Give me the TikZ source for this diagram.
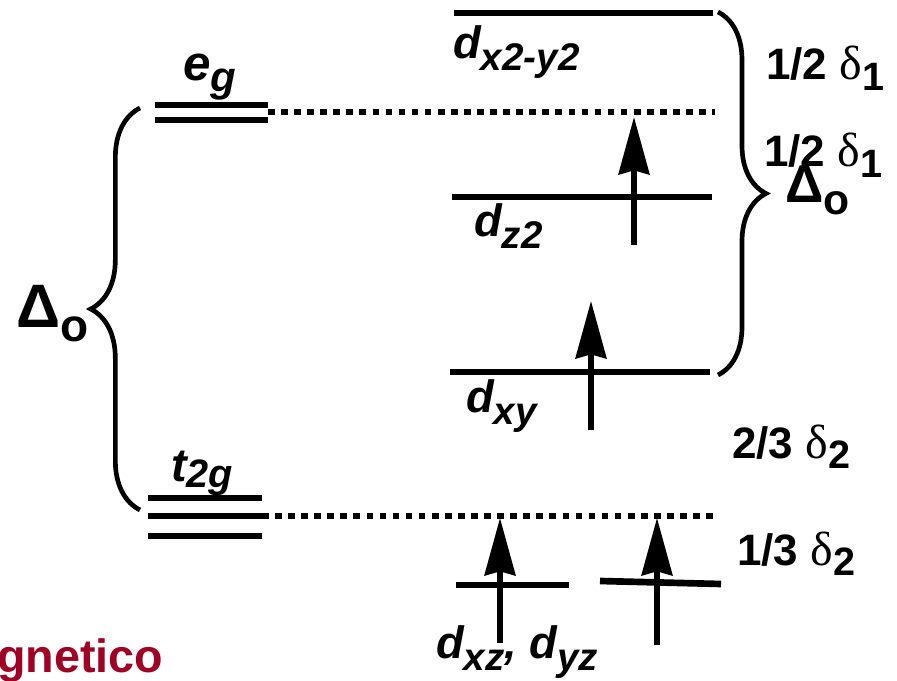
\documentclass[tikz,border=0pt]{standalone}
\usepackage{fontspec}
\setmainfont{Liberation Sans}
\newfontfamily\grkfont{Liberation Serif}
\usepackage{graphicx}
\usetikzlibrary{arrows.meta, decorations.pathreplacing}
\definecolor{wine}{HTML}{A10025}
\newcommand{\lsub}[2][9]{\raisebox{-#1pt}{\scalebox{0.85}{#2}}}
\newcommand{\dsub}[2][8]{\raisebox{-#1pt}{\scalebox{0.9}{#2}}}
\newcommand{\dlt}{{\grkfont\mdseries\fontsize{36}{38}\selectfont δ}}

\begin{document}
\begin{tikzpicture}[
    x=0.75pt, y=-0.75pt,
    level/.style={line width=5pt},
    guide/.style={line width=4pt, dash pattern=on 5pt off 4.8pt},
    spin/.style={line width=4pt, -{Stealth[length=43pt, width=23pt, inset=3pt]}},
    curly/.style={line width=3.5pt, decorate, decoration={brace, amplitude=#1}},
    orb/.style={anchor=base west, inner sep=0pt, font=\fontsize{34}{36}\selectfont\bfseries\itshape},
    gap/.style={anchor=base west, inner sep=0pt, font=\fontsize{33}{35}\selectfont\bfseries}
]
\useasboundingbox (0,0) rectangle (897,681);

% Octahedral levels
\draw[level] (155,105) -- (268,105);
\draw[level] (155,120) coordinate (eg-l) -- (268,120);
\coordinate (eg-r) at (268,112);
\draw[level] (148,498) -- (262,498);
\draw[level] (148,516) coordinate (tg-l) -- (262,516) coordinate (tg-r);
\draw[level] (148,536) -- (262,536);

% Split levels
\draw[level] (454,13) -- (713,13);
\draw[level] (452,197) -- (712,197);
\draw[level] (450,372) -- (710,372);
\draw[level] (456,585) -- (569,585);
\draw[level] (600,581) -- (721,584);

% Barycentres
\coordinate (eg-far) at (715,112);
\coordinate (tg-far) at (715,516);
\draw[guide] (eg-r) -- (eg-far);
\draw[guide] (tg-r) -- (tg-far);

% Spins
\draw[spin] (634,245) -- (634,117);
\draw[spin] (591,430) -- (591,301);
\draw[spin] (500,643) -- (500,518);
\draw[spin] (657,645) -- (657,518);

% Braces
\draw[curly=37pt] (140,510) -- (140,108);
\draw[curly=36pt] (718,12) -- (718,375);

% Labels
\node (eg) [orb, font=\fontsize{37}{40}\selectfont\bfseries\itshape] at (183,81) {e\lsub[8]{g}};
\node (tg) [orb, font=\fontsize{35}{38}\selectfont\bfseries\itshape] at (171,481) {t\lsub[5]{2g}};
\node (dx2) [orb] at (453,59) {d\lsub{x2-y2}};
\node (dz2) [orb] at (474,237) {d\lsub{z2}};
\node (dxy) [orb] at (466,412) {d\lsub{xy}};
\node (dxz) [orb] at (436,658) {d\lsub{xz}, d\lsub{yz}};

\node (deltaL) [anchor=base west, inner sep=0pt, font=\fontsize{46}{50}\selectfont\bfseries] at (16,327) {Δ\raisebox{-11pt}{\scalebox{0.75}{o}}};
\node (deltaR) [anchor=base west, inner sep=0pt, font=\fontsize{40}{44}\selectfont\bfseries] at (785,203) {Δ\raisebox{-9pt}{\scalebox{0.8}{o}}};

\node (half1) [gap] at (766,80) {1/2 \dlt\dsub{1}};
\node (half2) [gap] at (764,167) {1/2 \dlt\dsub{1}};
\node (twoth) [gap] at (732,458) {2/3 \dlt\dsub{2}};
\node (oneth) [gap] at (737,565) {1/3 \dlt\dsub{2}};

\node (title) [anchor=base west, inner sep=0pt, text=wine, font=\fontsize{35}{38}\selectfont\bfseries] at (-3,672) {gnetico};

\end{tikzpicture}
\end{document}
